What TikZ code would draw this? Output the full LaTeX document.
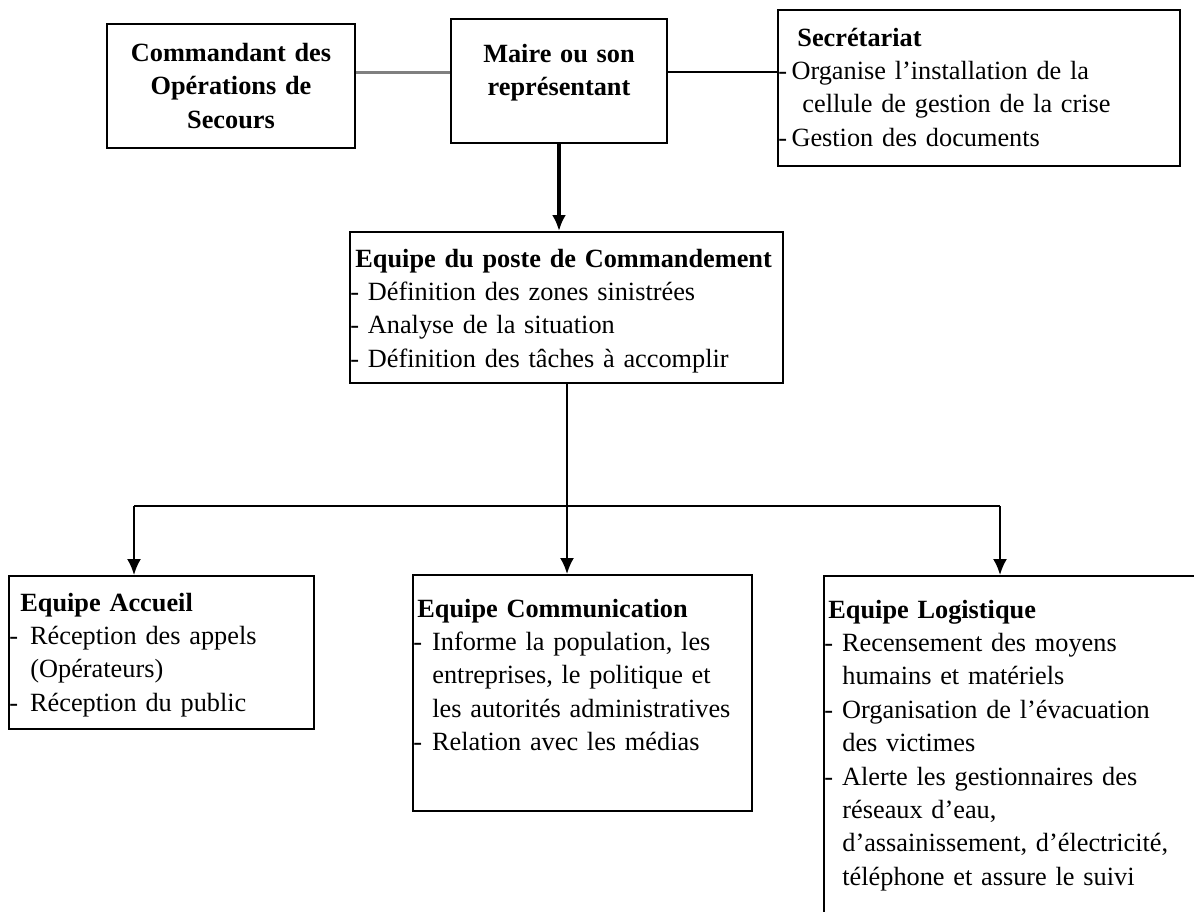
\documentclass[tikz,border=0pt]{standalone}
\usepackage{fontspec}
\setmainfont{Liberation Serif}
\usetikzlibrary{arrows.meta,fit}

\begin{document}
\begin{tikzpicture}[x=0.5pt, y=-0.5pt,
  boite/.style={draw, line width=1pt, inner sep=0pt},
  texte/.style={inner sep=0pt, text width=230pt, align=left, anchor=base west,
    font=\fontsize{13.15}{16.7}\selectfont},
  centre/.style={inner sep=0pt, text width=120pt, align=center, anchor=base,
    font=\fontsize{13.15}{16.9}\selectfont\bfseries},
  fleche/.style={-{Latex[length=8pt,width=7pt]}, line width=1.1pt},
  lien/.style={line width=0.8pt}]

\useasboundingbox (0,0) rectangle (1194,911);
\clip (0,0) rectangle (1194,911);

% top row
\node[boite, fit={(107,24) (355,148)}] (ops) {};
\node[centre] (opsT) at (231,61) {Commandant des\\ Opérations de\\ Secours};

\node[boite, fit={(451,19) (667,143)}] (maire) {};
\node[centre] (maireT) at (559,62) {Maire ou son\\ représentant};

\node[boite, fit={(778,10) (1180,166)}] (secr) {};
\node[texte] (secrT) at (778,46) {\textbf{\hspace*{9.5pt}Secrétariat}\\
  -\,Organise l’installation de la\\
  \hspace*{12pt}cellule de gestion de la crise\\
  -\,Gestion des documents};

\coordinate (haut) at (560,72);
\draw[line width=1.5pt, black!50] (haut -| ops.east) -- (haut -| maire.west);
\draw[lien] (haut -| maire.east) -- (haut -| secr.west);

% poste de commandement
\node[boite, fit={(350,232) (783,383)}] (pc) {};
\node[texte] (pcT) at (350,267) {\textbf{\hspace*{2.5pt}Equipe du poste de Commandement}\\
  - Définition des zones sinistrées\\
  - Analyse de la situation\\
  - Définition des tâches à accomplir};

\draw[fleche, line width=2pt] (maire.south) -- (maire.south |- pc.north);

% equipes
\node[boite, fit={(9,576) (314,729)}] (accueil) {};
\node[texte] (accueilT) at (9,611) {\textbf{\hspace*{5.5pt}Equipe Accueil}\\
  -\hspace{6pt}Réception des appels\\
  \hspace*{10.5pt}(Opérateurs)\\
  -\hspace{6pt}Réception du public};

\node[boite, fit={(413,575) (752,811)}] (comm) {};
\node[texte] (commT) at (413,617) {\textbf{\hspace*{2pt}Equipe Communication}\\
  -\hspace{5pt}Informe la population, les\\
  \hspace*{9.5pt}entreprises, le politique et\\
  \hspace*{9.5pt}les autorités administratives\\
  -\hspace{5pt}Relation avec les médias};

\node[boite, fit={(824,576) (1260,960)}] (logis) {};
\node[texte] (logisT) at (824,618) {\textbf{\hspace*{2pt}Equipe Logistique}\\
  -\hspace{4.5pt}Recensement des moyens\\
  \hspace*{9pt}humains et matériels\\
  -\hspace{4.5pt}Organisation de l’évacuation\\
  \hspace*{9pt}des victimes\\
  -\hspace{4.5pt}Alerte les gestionnaires des\\
  \hspace*{9pt}réseaux d’eau,\\
  \hspace*{9pt}d’assainissement, d’électricité,\\
  \hspace*{9pt}téléphone et assure le suivi};

\coordinate (jA) at (134,506);
\coordinate (jC) at (567,506);
\coordinate (jL) at (1000,506);

\draw[lien] (pc.south -| jC) -- (jC);
\draw[lien] (jA) -- (jL);
\draw[fleche] (jA) -- (accueil.north -| jA);
\draw[fleche] (jC) -- (comm.north -| jC);
\draw[fleche] (jL) -- (logis.north -| jL);

\end{tikzpicture}
\end{document}
